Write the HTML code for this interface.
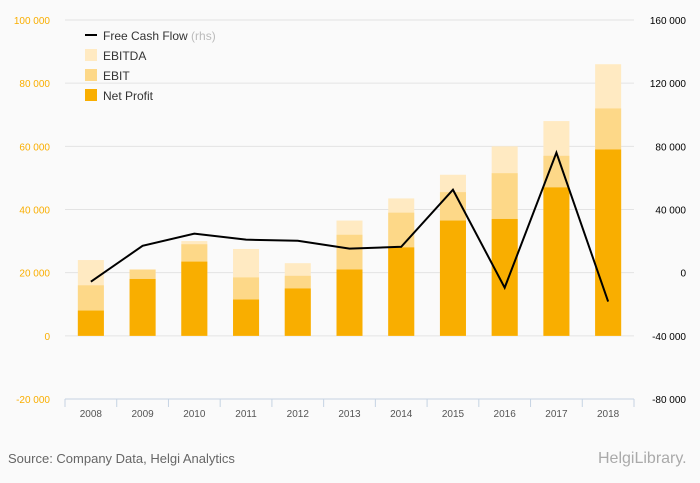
<!DOCTYPE html>
<html><head><meta charset="utf-8"><style>
body{margin:0;background:#fafafa;}
svg{display:block;font-family:"Liberation Sans",sans-serif;}
</style></head><body>
<svg id="c" width="700" height="483" viewBox="0 0 700 483">
<rect width="700" height="483" fill="#fafafa"/>
<g id="grid"></g><g id="bars"></g><g id="axes"></g><g id="line"></g>
<g>
<line x1="85" y1="35" x2="97" y2="35" stroke="#000" stroke-width="2"/>
<text x="103" y="40" font-size="12" fill="#333">Free Cash Flow <tspan fill="#bbb">(rhs)</tspan></text>
<rect x="85" y="49" width="12" height="12" fill="#ffeac2"/>
<text x="103" y="60" font-size="12" fill="#333">EBITDA</text>
<rect x="85" y="69" width="12" height="12" fill="#fdd888"/>
<text x="103" y="80" font-size="12" fill="#333">EBIT</text>
<rect x="85" y="89" width="12" height="12" fill="#f9ae00"/>
<text x="103" y="100" font-size="12" fill="#333">Net Profit</text>
</g>
<text x="8" y="463" font-size="13" fill="#666">Source: Company Data, Helgi Analytics</text>
<text x="598" y="463" font-size="16" fill="#aaa">HelgiLibrary.</text>
</svg>
<script>
const categories=["2008","2009","2010","2011","2012","2013","2014","2015","2016","2017","2018"];
const ebitda=[24000,21000,30000,27500,23000,36500,43500,51000,60000,68000,86000];
const ebit=[16000,21000,29000,18500,19000,32000,39000,45500,51500,57000,72000];
const netProfit=[8000,18000,23500,11500,15000,21000,28000,36500,37000,47000,59000];
const fcf=[-5700,17000,24700,20900,20200,15200,16400,52500,-9500,76000,-18300];
const leftTicks=[-20000,0,20000,40000,60000,80000,100000];
const rightTicks=[-80000,-40000,0,40000,80000,120000,160000];
const NS="http://www.w3.org/2000/svg";
const X0=65,X1=634,Y0=399,Y1=20;
const step=(X1-X0)/categories.length;
const xC=i=>X0+step*(i+0.5);
const yL=v=>Y0-(v+20000)/120000*(Y0-Y1);
const yR=v=>Y0-(v+80000)/240000*(Y0-Y1);
function mk(t,a,p){const e=document.createElementNS(NS,t);for(const k in a)e.setAttribute(k,a[k]);p.appendChild(e);return e;}
const g=document.getElementById('grid'),b=document.getElementById('bars'),ax=document.getElementById('axes'),ln=document.getElementById('line');
leftTicks.forEach((v,i)=>{
  if(v!==-20000){const l=mk('line',{x1:X0,x2:X1,y1:yL(v),y2:yL(v),stroke:'#e3e3e3'},g);
  
  }
  const t=mk('text',{x:50,y:yL(v)+4,'text-anchor':'end','font-size':10,fill:'#f9ae00'},ax);
  t.textContent=v.toLocaleString('en').replace(/,/g,' ');
  
  
});
rightTicks.forEach(v=>{
  const t=mk('text',{x:686,y:yR(v)+4,'text-anchor':'end','font-size':10,fill:'#000'},ax);
  t.textContent=v.toLocaleString('en').replace(/,/g,' ');
  
  
});
const bw=26;
[[ebitda,'#ffeac2','bar-ebitda'],[ebit,'#fdd888','bar-ebit'],[netProfit,'#f9ae00','bar-net-profit']].forEach(([arr,col,nm])=>{
  arr.forEach((v,i)=>{
    const y=yL(v),y0=yL(0);
    const r=mk('rect',{x:xC(i)-bw/2,y:Math.min(y,y0),width:bw,height:Math.abs(y0-y),fill:col},b);
    
    
  });
});
const axl=mk('line',{x1:X0,x2:X1,y1:Y0,y2:Y0,stroke:'#c5d3e3'},ax);


for(let i=0;i<=categories.length;i++){mk('line',{x1:X0+step*i,x2:X0+step*i,y1:Y0,y2:Y0+8,stroke:'#c5d3e3'},ax);}
categories.forEach((c,i)=>{
  const t=mk('text',{x:xC(i),y:417,'text-anchor':'middle','font-size':10,fill:'#555'},ax);
  t.textContent=c;
  
  
});
const pl=mk('polyline',{points:fcf.map((v,i)=>xC(i)+','+yR(v)).join(' '),fill:'none',stroke:'#000','stroke-width':2},ln);


</script>
</body></html>
